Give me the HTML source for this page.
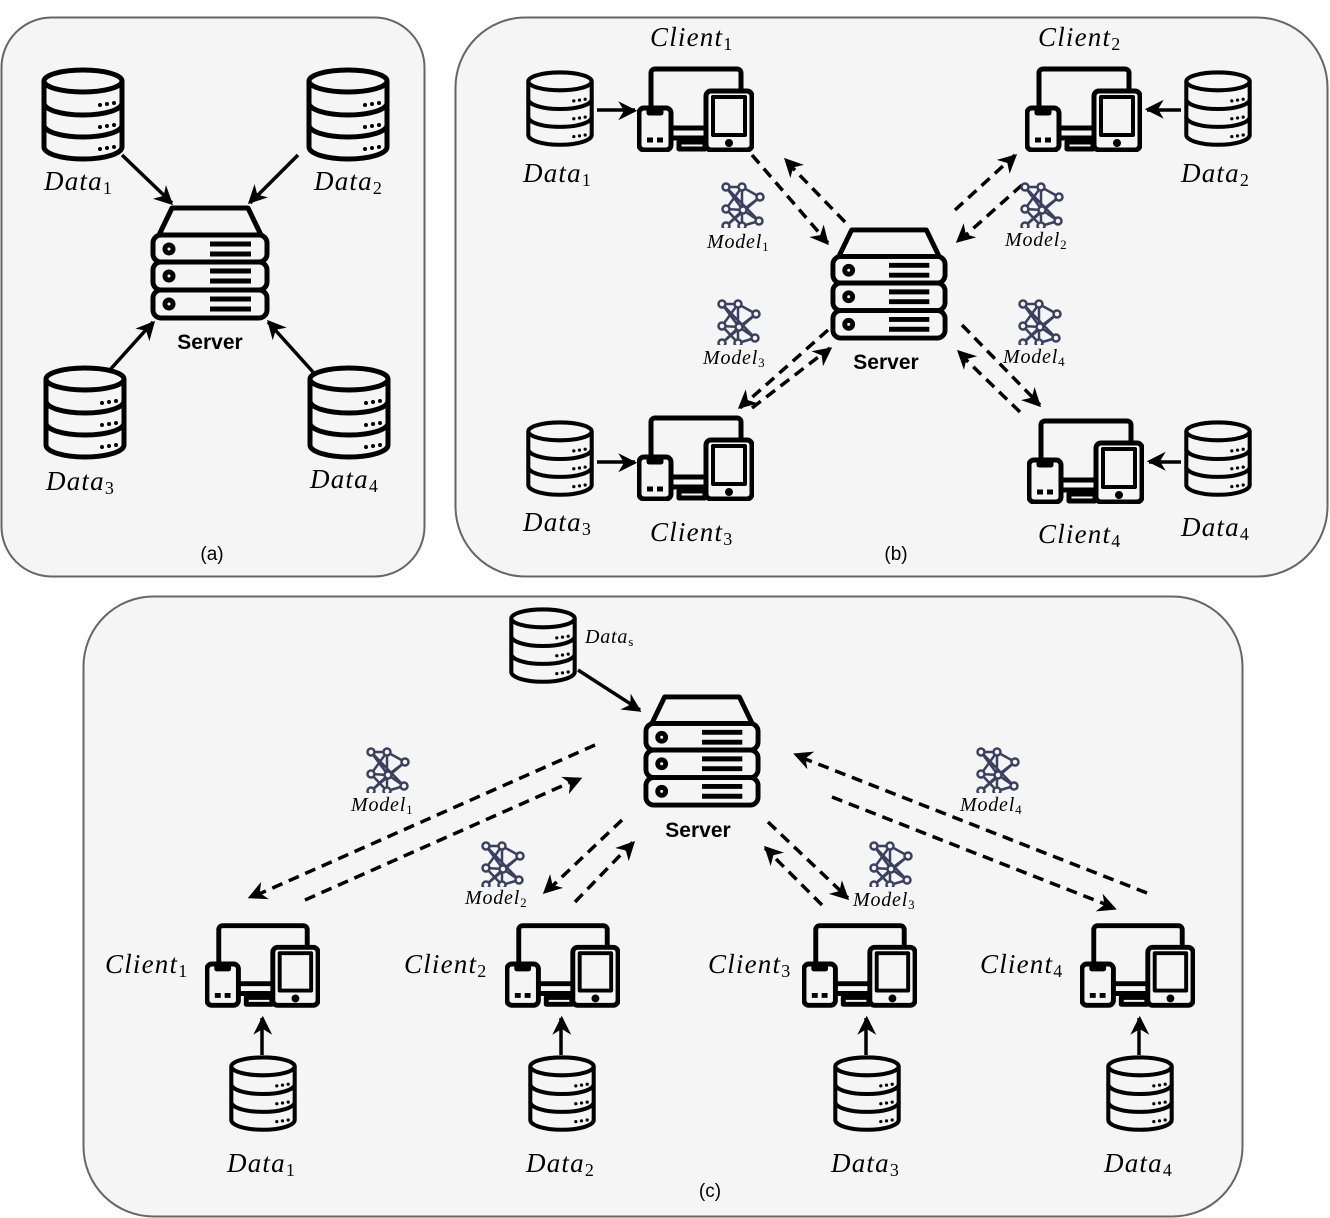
<!DOCTYPE html>
<html><head><meta charset="utf-8"><style>
html,body{margin:0;padding:0;background:#fff}
svg{display:block}
.l{font-family:"Liberation Serif",serif;font-style:italic;font-size:27px;letter-spacing:1.2px;fill:#000}
.s{font-size:18px;font-style:normal}
.m{font-size:20px;letter-spacing:0.8px}
.ms{font-size:13px;font-style:normal}
.b{font-family:"Liberation Sans",sans-serif;font-weight:bold;font-size:21px}
.c{font-family:"Liberation Sans",sans-serif;font-size:19px}
</style></head><body>
<svg width="1330" height="1218" viewBox="0 0 1330 1218" xmlns="http://www.w3.org/2000/svg">
<defs>
<symbol id="db" viewBox="0 0 86 96">
 <g fill="none" stroke="#000" stroke-width="5">
  <ellipse cx="43" cy="14" rx="39" ry="11"/>
  <path d="M4 14 V80 A39 12 0 0 0 82 80 V14"/>
  <path d="M4 36 A39 12 0 0 0 82 36"/>
  <path d="M4 58 A39 12 0 0 0 82 58"/>
 </g>
 <g fill="#000"><circle cx="60" cy="38" r="2"/><circle cx="67" cy="37" r="2"/><circle cx="74" cy="36" r="2"/>
 <circle cx="60" cy="60" r="2"/><circle cx="67" cy="59" r="2"/><circle cx="74" cy="58" r="2"/>
 <circle cx="60" cy="82" r="2"/><circle cx="67" cy="81" r="2"/><circle cx="74" cy="80" r="2"/></g>
</symbol>
<symbol id="srv" viewBox="0 0 120 120">
 <g fill="none" stroke="#000" stroke-width="5" stroke-linejoin="round">
  <path d="M9 32 L22 5 H98 L111 32 Z"/>
  <rect x="3" y="32" width="114" height="27" rx="8"/>
  <rect x="3" y="59" width="114" height="28" rx="8"/>
  <rect x="3" y="87" width="114" height="28" rx="8"/>
  <circle cx="19" cy="46" r="4"/><circle cx="19" cy="73" r="4"/><circle cx="19" cy="101" r="4"/>
  <path d="M60 41 H101 M60 51 H101 M60 68 H101 M60 78 H101 M60 96 H101 M60 106 H101"/>
 </g>
</symbol>
<symbol id="cl" viewBox="0 0 117 86">
 <g stroke="#000" stroke-width="5" stroke-linejoin="round">
  <path d="M14 48 V7 A4 4 0 0 1 18 3 H100 A4 4 0 0 1 104 7 V28" fill="none"/>
  <path d="M34 62 H70 M34 72 H70" fill="none"/>
  <rect x="42" y="76" width="26" height="7" fill="none"/>
  <rect x="2" y="42" width="32" height="42" rx="5" fill="#f5f5f5"/>
  <path d="M12 44 h12 v3 h-12z" fill="#000"/>
  <path d="M10 74 h6 M20 74 h6" fill="none"/>
  <rect x="69" y="25" width="46" height="59" rx="5" fill="#f5f5f5"/>
  <rect x="76" y="31" width="32" height="38" fill="none" stroke-width="4"/>
  <circle cx="92" cy="77" r="1.5" fill="#000"/>
 </g>
</symbol>
<symbol id="md" viewBox="0 0 46 46">
 <g stroke="#3a4060" stroke-width="2.5" fill="none">
  <path d="M5 5 L22 28 L5 44 M5 5 L21 5 L39 15 M5 5 L38 39 M21 5 L5 27 M21 5 L21 44 M5 27 L22 28 L39 15 M5 27 L21 44 M22 28 L38 39 M5 44 L39 15 M21 44 L38 39"/>
  <circle cx="5" cy="5" r="3.5" fill="#f5f5f5"/><circle cx="21" cy="5" r="3.5" fill="#f5f5f5"/>
  <circle cx="5" cy="27" r="3.5" fill="#f5f5f5"/><circle cx="22" cy="28" r="3.5" fill="#f5f5f5"/>
  <circle cx="39" cy="15" r="3.5" fill="#f5f5f5"/><circle cx="38" cy="39" r="3.5" fill="#f5f5f5"/>
  <circle cx="5" cy="44" r="3.5" fill="#f5f5f5"/><circle cx="21" cy="44" r="3.5" fill="#f5f5f5"/>
 </g>
</symbol>
<marker id="ah" viewBox="0 0 10 10" refX="9" refY="5" markerWidth="7" markerHeight="7" markerUnits="userSpaceOnUse" orient="auto" style="overflow:visible">
 <path d="M0 0 L10 5 L0 10 L3 5 Z" fill="#000" transform="scale(2.7) translate(-5.5,-2.75)"/>
</marker>
</defs>

<rect x="1.5" y="17.5" width="423" height="559" rx="50" fill="#f5f5f5" stroke="#666" stroke-width="2"/>
<rect x="455.5" y="17.5" width="872" height="559" rx="70" fill="#f5f5f5" stroke="#666" stroke-width="2"/>
<rect x="83.5" y="596.5" width="1159" height="620" rx="70" fill="#f5f5f5" stroke="#666" stroke-width="2"/>

<g stroke="#000" stroke-width="3.5" fill="none" marker-end="url(#ah)">
 <line x1="122" y1="155" x2="172" y2="203"/>
 <line x1="298" y1="155" x2="250" y2="203"/>
 <line x1="108" y1="372" x2="153" y2="322"/>
 <line x1="313" y1="372" x2="268" y2="322"/>
 <line x1="597" y1="110" x2="635" y2="110"/>
 <line x1="1181" y1="110" x2="1147" y2="110"/>
 <line x1="597" y1="462" x2="635" y2="462"/>
 <line x1="1181" y1="462" x2="1149" y2="462"/>
 <line x1="578" y1="670" x2="640" y2="710"/>
 <line x1="262" y1="1055" x2="262" y2="1018"/>
 <line x1="561" y1="1055" x2="561" y2="1018"/>
 <line x1="866" y1="1055" x2="866" y2="1018"/>
 <line x1="1139" y1="1055" x2="1139" y2="1018"/>
</g>
<g stroke="#000" stroke-width="3.5" fill="none" stroke-dasharray="11,7" marker-end="url(#ah)">
 <line x1="752" y1="155" x2="828" y2="243"/>
 <line x1="845" y1="222" x2="785" y2="160"/>
 <line x1="955" y1="210" x2="1015" y2="155"/>
 <line x1="1022" y1="185" x2="958" y2="242"/>
 <line x1="828" y1="330" x2="740" y2="408"/>
 <line x1="752" y1="408" x2="830" y2="348"/>
 <line x1="962" y1="325" x2="1040" y2="405"/>
 <line x1="1020" y1="412" x2="958" y2="352"/>
 <line x1="595" y1="745" x2="250" y2="898"/>
 <line x1="305" y1="900" x2="580" y2="778"/>
 <line x1="622" y1="820" x2="545" y2="893"/>
 <line x1="575" y1="902" x2="633" y2="842"/>
 <line x1="768" y1="822" x2="848" y2="898"/>
 <line x1="822" y1="905" x2="765" y2="848"/>
 <line x1="1147" y1="893" x2="795" y2="755"/>
 <line x1="832" y1="797" x2="1115" y2="908"/>
</g>

<use href="#db" x="40" y="67" width="86" height="96"/>
<use href="#db" x="305" y="67" width="86" height="96"/>
<use href="#db" x="42" y="365" width="86" height="96"/>
<use href="#db" x="306" y="365" width="86" height="96"/>
<use href="#srv" x="150" y="203" width="120" height="120"/>
<text class="l" x="44" y="190">Data<tspan class="s" dy="4">1</tspan></text>
<text class="l" x="314" y="190">Data<tspan class="s" dy="4">2</tspan></text>
<text class="l" x="46" y="490">Data<tspan class="s" dy="4">3</tspan></text>
<text class="l" x="310" y="488">Data<tspan class="s" dy="4">4</tspan></text>
<text class="b" x="210" y="349" text-anchor="middle">Server</text>
<text class="c" x="212" y="560" text-anchor="middle">(a)</text>

<use href="#srv" x="830" y="225" width="118" height="118"/>
<use href="#cl" x="637" y="66" width="117" height="86"/>
<use href="#cl" x="1025" y="66" width="117" height="86"/>
<use href="#cl" x="637" y="415" width="117" height="86"/>
<use href="#cl" x="1027" y="418" width="117" height="86"/>
<use href="#db" x="525" y="70" width="70" height="78"/>
<use href="#db" x="1183" y="70" width="70" height="78"/>
<use href="#db" x="525" y="420" width="70" height="78"/>
<use href="#db" x="1183" y="420" width="70" height="78"/>
<use href="#md" x="721" y="182" width="46" height="46"/>
<use href="#md" x="1020" y="182" width="46" height="46"/>
<use href="#md" x="717" y="299" width="46" height="46"/>
<use href="#md" x="1018" y="299" width="46" height="46"/>
<text class="l" x="650" y="46">Client<tspan class="s" dy="4">1</tspan></text>
<text class="l" x="1038" y="46">Client<tspan class="s" dy="4">2</tspan></text>
<text class="l" x="650" y="541">Client<tspan class="s" dy="4">3</tspan></text>
<text class="l" x="1038" y="543">Client<tspan class="s" dy="4">4</tspan></text>
<text class="l" x="523" y="182">Data<tspan class="s" dy="4">1</tspan></text>
<text class="l" x="1181" y="182">Data<tspan class="s" dy="4">2</tspan></text>
<text class="l" x="523" y="531">Data<tspan class="s" dy="4">3</tspan></text>
<text class="l" x="1181" y="536">Data<tspan class="s" dy="4">4</tspan></text>
<text class="l m" x="707" y="248">Model<tspan class="ms" dy="3">1</tspan></text>
<text class="l m" x="1005" y="246">Model<tspan class="ms" dy="3">2</tspan></text>
<text class="l m" x="703" y="364">Model<tspan class="ms" dy="3">3</tspan></text>
<text class="l m" x="1003" y="363">Model<tspan class="ms" dy="3">4</tspan></text>
<text class="b" x="886" y="369" text-anchor="middle">Server</text>
<text class="c" x="896" y="560" text-anchor="middle">(b)</text>

<use href="#db" x="508" y="607" width="70" height="78"/>
<text class="l m" x="585" y="643">Data<tspan class="ms" dy="3">s</tspan></text>
<use href="#srv" x="642" y="692" width="120" height="118"/>
<text class="b" x="698" y="837" text-anchor="middle">Server</text>
<use href="#cl" x="205" y="922" width="115" height="86"/>
<use href="#cl" x="505" y="922" width="115" height="86"/>
<use href="#cl" x="802" y="922" width="115" height="86"/>
<use href="#cl" x="1080" y="922" width="115" height="86"/>
<text class="l" x="105" y="973">Client<tspan class="s" dy="4">1</tspan></text>
<text class="l" x="404" y="973">Client<tspan class="s" dy="4">2</tspan></text>
<text class="l" x="708" y="973">Client<tspan class="s" dy="4">3</tspan></text>
<text class="l" x="980" y="973">Client<tspan class="s" dy="4">4</tspan></text>
<use href="#db" x="228" y="1055" width="70" height="78"/>
<use href="#db" x="527" y="1055" width="70" height="78"/>
<use href="#db" x="832" y="1055" width="70" height="78"/>
<use href="#db" x="1105" y="1055" width="70" height="78"/>
<text class="l" x="227" y="1172">Data<tspan class="s" dy="4">1</tspan></text>
<text class="l" x="526" y="1172">Data<tspan class="s" dy="4">2</tspan></text>
<text class="l" x="831" y="1172">Data<tspan class="s" dy="4">3</tspan></text>
<text class="l" x="1104" y="1172">Data<tspan class="s" dy="4">4</tspan></text>
<use href="#md" x="366" y="747" width="46" height="46"/>
<use href="#md" x="481" y="841" width="46" height="46"/>
<use href="#md" x="869" y="841" width="46" height="46"/>
<use href="#md" x="976" y="747" width="46" height="46"/>
<text class="l m" x="351" y="811">Model<tspan class="ms" dy="3">1</tspan></text>
<text class="l m" x="465" y="904">Model<tspan class="ms" dy="3">2</tspan></text>
<text class="l m" x="853" y="906">Model<tspan class="ms" dy="3">3</tspan></text>
<text class="l m" x="960" y="811">Model<tspan class="ms" dy="3">4</tspan></text>
<text class="c" x="710" y="1197" text-anchor="middle">(c)</text>
</svg>
</body></html>
